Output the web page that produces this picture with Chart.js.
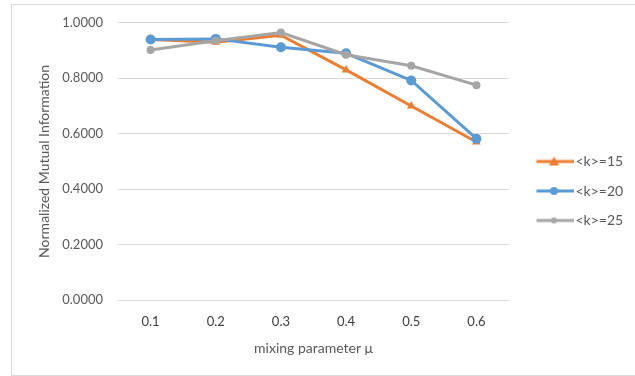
<!DOCTYPE html>
<html>
<head>
<meta charset="utf-8">
<script src="https://cdn.jsdelivr.net/npm/chart.js@4.4.1/dist/chart.umd.min.js"></script>
<style>
  html, body { margin: 0; padding: 0; background: #fff; }
  #frame { position: absolute; left: 11px; top: 4px; width: 640px; height: 370px; border: 1px solid #d9d9d9; }
  #wrap { position: absolute; left: 0; top: 0; width: 635px; height: 376px; }
</style>
</head>
<body>
<div id="frame"></div>
<div id="wrap"><canvas id="chart" width="635" height="376"></canvas></div>
<script>
const categories = ["0.1", "0.2", "0.3", "0.4", "0.5", "0.6"];
const seriesNames = ["<k>=15", "<k>=20", "<k>=25"];
const k15 = [0.940, 0.930, 0.955, 0.830, 0.700, 0.570];
const k20 = [0.940, 0.942, 0.912, 0.890, 0.792, 0.582];
const k25 = [0.902, 0.935, 0.965, 0.885, 0.845, 0.775];
const yTicks = [0, 0.2, 0.4, 0.6, 0.8, 1.0];

const colors = ["#ED7D31", "#5B9BD5", "#A5A5A5"];
const markers = ["triangle", "circle", "circle"];
const markerSize = [5, 5, 4];
const font = "Lato, 'Open Sans', sans-serif";

// legend swatch: line with a marker on it (image is centred by chart.js, so pad left)
function swatch(color, style, r) {
  const c = document.createElement("canvas");
  c.width = 54; c.height = 12;
  const g = c.getContext("2d");
  g.strokeStyle = color; g.fillStyle = color; g.lineWidth = 3;
  g.beginPath(); g.moveTo(17, 6); g.lineTo(54, 6); g.stroke();
  const cx = 34.5, cy = 6;
  g.beginPath();
  if (style === "triangle") {
    g.moveTo(cx, cy - r); g.lineTo(cx + r, cy + r * 0.8); g.lineTo(cx - r, cy + r * 0.8); g.closePath();
  } else {
    g.arc(cx, cy, r - 1, 0, Math.PI * 2);
  }
  g.fill();
  return c;
}

const allValues = [k15, k20, k25];
const datasets = allValues.map((vals, i) => ({
  label: seriesNames[i],
  data: vals,
  borderColor: colors[i],
  backgroundColor: colors[i],
  borderWidth: 3,
  pointStyle: markers[i],
  pointRadius: markerSize[i],
  pointBorderWidth: 0,
  tension: 0,
  order: 3 - i
}));

const legendWidth = {
  id: "legendWidth",
  beforeInit(chart) {
    const orig = chart.legend.fit;
    chart.legend.fit = function () { orig.call(this); this.width = 126; };
  }
};

new Chart(document.getElementById("chart").getContext("2d"), {
  type: "line",
  data: { labels: categories, datasets: datasets },
  options: {
    responsive: false,
    animation: false,
    layout: { padding: { left: 36, top: 16, right: 0, bottom: 10 } },
    plugins: {
      tooltip: { enabled: false },
      legend: {
        position: "right",
        align: "center",
        labels: {
          usePointStyle: true,
          pointStyleWidth: 44,
          padding: 15.5,
          color: "#595959",
          font: { family: font, size: 14 },
          generateLabels: chart => chart.data.datasets.map((d, i) => ({
            text: d.label,
            pointStyle: swatch(colors[i], markers[i], markerSize[i]),
            fillStyle: colors[i],
            strokeStyle: colors[i],
            lineWidth: 0,
            datasetIndex: i,
            fontColor: "#595959"
          }))
        }
      }
    },
    scales: {
      x: {
        offset: true,
        grid: { display: false },
        border: { display: false },
        ticks: { color: "#404040", padding: 6, font: { family: font, size: 13 } },
        title: { display: true, text: "mixing parameter μ", color: "#595959", padding: { top: 10, bottom: 9 }, font: { family: font, size: 14 } },
        afterFit: s => { s.height = 66; }
      },
      y: {
        min: 0,
        max: 1,
        afterBuildTicks: s => { s.ticks = yTicks.map(v => ({ value: v })); },
        grid: { color: "#d9d9d9", drawTicks: false },
        border: { display: false },
        ticks: { color: "#595959", padding: 15, font: { family: font, size: 13 }, callback: v => Number(v).toFixed(4) },
        title: { display: true, text: "Normalized Mutual Information", color: "#595959", padding: { top: 0, bottom: 0 }, font: { family: font, size: 14 } },
        afterFit: s => { s.width = 82; }
      }
    }
  },
  plugins: [legendWidth]
});
</script>
</body>
</html>
